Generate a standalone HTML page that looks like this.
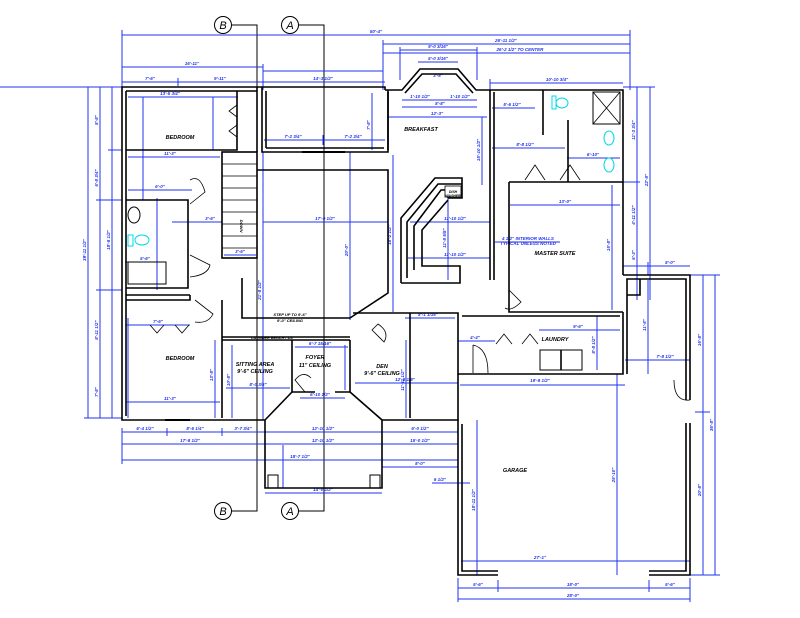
<!DOCTYPE html>
<html><head><meta charset="utf-8"><style>
html,body{margin:0;padding:0;background:#fff}
svg{display:block}
text{font-family:"Liberation Sans",sans-serif;font-style:italic;font-weight:bold}
.d{stroke:#2233ee;stroke-width:1;fill:none}
.w{stroke:#000;stroke-width:1.6;fill:none}
.t{stroke:#000;stroke-width:0.8;fill:none}
.dt{fill:#2233ee;font-size:4.5px}
.rt{fill:#000;font-size:5.5px}
</style></head><body>
<svg width="800" height="618" viewBox="0 0 800 618" xmlns="http://www.w3.org/2000/svg">
<rect width="800" height="618" fill="#fff"/>
<!-- grid lines A/B -->
<g stroke="#000" stroke-width="1" fill="none">
<circle cx="223" cy="25" r="8.5"/><circle cx="290" cy="25" r="8.5"/>
<circle cx="223" cy="511" r="8.5"/><circle cx="290" cy="511" r="8.5"/>
<polyline points="231,25 257,25 257,511 231,511"/>
<polyline points="298,25 324,25 324,511 298,511"/>
</g>
<g font-family="Liberation Sans" font-size="11" text-anchor="middle" fill="#000" style="font-style:italic">
<text x="223" y="29" style="font-weight:normal">B</text><text x="290" y="29" style="font-weight:normal">A</text>
<text x="223" y="515" style="font-weight:normal">B</text><text x="290" y="515" style="font-weight:normal">A</text>
</g>

<!-- dimension lines -->
<g class="d">
<line x1="122" y1="35" x2="630" y2="35"/><line x1="122" y1="30" x2="122" y2="90"/><line x1="630" y1="30" x2="630" y2="90"/>
<line x1="383" y1="44" x2="630" y2="44"/><line x1="383" y1="40" x2="383" y2="90"/>
<line x1="383" y1="53" x2="630" y2="53"/>
<line x1="400" y1="50" x2="477" y2="50"/><line x1="400" y1="47" x2="400" y2="80"/><line x1="477" y1="47" x2="477" y2="80"/>
<line x1="418" y1="62" x2="458" y2="62"/>
<line x1="122" y1="67" x2="263" y2="67"/><line x1="263" y1="64" x2="263" y2="90"/>
<line x1="263" y1="71" x2="383" y2="71"/>
<line x1="122" y1="82" x2="385" y2="82"/><line x1="178" y1="78" x2="178" y2="86"/>
<line x1="490" y1="83" x2="623" y2="83"/><line x1="490" y1="79" x2="490" y2="90"/>
<line x1="0" y1="87" x2="122" y2="87"/>
<line x1="402" y1="100" x2="477" y2="100"/><line x1="402" y1="107" x2="477" y2="107"/><line x1="388" y1="117" x2="487" y2="117"/>
<line x1="128" y1="97" x2="238" y2="97"/><line x1="128" y1="157" x2="220" y2="157"/><line x1="128" y1="190" x2="192" y2="190"/>
<line x1="143" y1="97" x2="143" y2="200"/><line x1="213" y1="97" x2="213" y2="150"/>
<line x1="264" y1="140" x2="385" y2="140"/><line x1="323" y1="135" x2="323" y2="145"/>
<line x1="372" y1="93" x2="372" y2="150"/>
<line x1="88" y1="87" x2="88" y2="418"/><line x1="100" y1="87" x2="100" y2="418"/><line x1="112" y1="87" x2="112" y2="418"/>
<line x1="84" y1="87" x2="122" y2="87"/><line x1="84" y1="418" x2="122" y2="418"/>
<line x1="96" y1="200" x2="122" y2="200"/><line x1="96" y1="290" x2="122" y2="290"/><line x1="108" y1="150" x2="122" y2="150"/>
<line x1="263" y1="222" x2="388" y2="222"/><line x1="263" y1="152" x2="263" y2="420"/>
<line x1="350" y1="152" x2="350" y2="320"/><line x1="393" y1="155" x2="393" y2="312"/>
<line x1="172" y1="222" x2="222" y2="222"/><line x1="125" y1="262" x2="165" y2="262"/><line x1="157" y1="198" x2="157" y2="290"/>
<line x1="224" y1="255" x2="256" y2="255"/>
<line x1="410" y1="222" x2="490" y2="222"/><line x1="408" y1="258" x2="490" y2="258"/><line x1="448" y1="195" x2="448" y2="280"/>
<line x1="482" y1="117" x2="482" y2="185"/>
<line x1="510" y1="205" x2="620" y2="205"/><line x1="612" y1="185" x2="612" y2="310"/>
<line x1="495" y1="242" x2="560" y2="242"/>
<line x1="492" y1="108" x2="535" y2="108"/><line x1="492" y1="148" x2="565" y2="148"/><line x1="567" y1="158" x2="620" y2="158"/>
<line x1="637" y1="87" x2="637" y2="300"/><line x1="650" y1="87" x2="650" y2="300"/>
<line x1="623" y1="87" x2="655" y2="87"/><line x1="623" y1="182" x2="640" y2="182"/>
<line x1="623" y1="266" x2="690" y2="266"/>
<line x1="648" y1="262" x2="648" y2="275"/>
<line x1="648" y1="280" x2="648" y2="374"/><line x1="625" y1="360" x2="690" y2="360"/>
<line x1="703" y1="275" x2="703" y2="575"/><line x1="715" y1="275" x2="715" y2="575"/>
<line x1="690" y1="275" x2="720" y2="275"/><line x1="690" y1="575" x2="720" y2="575"/><line x1="695" y1="412" x2="710" y2="412"/>
<line x1="458" y1="588" x2="690" y2="588"/><line x1="458" y1="599" x2="690" y2="599"/>
<line x1="458" y1="578" x2="458" y2="602"/><line x1="690" y1="578" x2="690" y2="602"/><line x1="498" y1="580" x2="498" y2="592"/><line x1="649" y1="580" x2="649" y2="592"/>
<line x1="461" y1="561" x2="690" y2="561"/><line x1="617" y1="374" x2="617" y2="575"/>
<line x1="477" y1="420" x2="477" y2="575"/>
<line x1="460" y1="385" x2="625" y2="385"/><line x1="539" y1="330" x2="620" y2="330"/><line x1="597" y1="316" x2="597" y2="370"/>
<line x1="458" y1="341" x2="495" y2="341"/>
<line x1="122" y1="432" x2="458" y2="432"/><line x1="122" y1="444" x2="458" y2="444"/><line x1="122" y1="460" x2="458" y2="460"/>
<line x1="122" y1="428" x2="122" y2="464"/><line x1="458" y1="428" x2="458" y2="464"/>
<line x1="167" y1="428" x2="167" y2="436"/><line x1="222" y1="428" x2="222" y2="436"/><line x1="265" y1="428" x2="265" y2="448"/><line x1="382" y1="428" x2="382" y2="448"/>
<line x1="265" y1="493" x2="382" y2="493"/><line x1="283" y1="445" x2="283" y2="488"/>
<line x1="382" y1="467" x2="458" y2="467"/><line x1="432" y1="483" x2="470" y2="483"/>
<line x1="126" y1="402" x2="220" y2="402"/><line x1="126" y1="325" x2="190" y2="325"/><line x1="215" y1="340" x2="215" y2="418"/><line x1="128" y1="318" x2="128" y2="418"/>
<line x1="226" y1="388" x2="290" y2="388"/><line x1="232" y1="345" x2="232" y2="418"/>
<line x1="295" y1="347" x2="348" y2="347"/><line x1="345" y1="345" x2="345" y2="390"/>
<line x1="355" y1="383" x2="458" y2="383"/><line x1="405" y1="318" x2="455" y2="318"/><line x1="406" y1="340" x2="406" y2="418"/>
<line x1="300" y1="398" x2="345" y2="398"/>
</g>
<g class="dt" text-anchor="middle">
<text x="376" y="33">50'-4"</text><text x="506" y="42">26'-11 1/2"</text><text x="520" y="51">26'-2 1/2"  TO CENTER</text>
<text x="438" y="48">9'-0 3/16"</text><text x="438" y="60">5'-0 3/16"</text><text x="438" y="77">3'-8"</text>
<text x="192" y="65">16'-11"</text><text x="150" y="80">7'-6"</text><text x="220" y="80">9'-11"</text><text x="323" y="80">14'-3 1/2"</text>
<text x="557" y="81">10'-10 3/4"</text>
<text x="420" y="98">1'-10 1/2"</text><text x="460" y="98">1'-10 1/2"</text><text x="440" y="105">8'-8"</text><text x="437" y="115">12'-3"</text>
<text x="170" y="95">13'-5 3/4"</text><text x="170" y="155">11'-3"</text><text x="160" y="188">6'-0"</text>
<text x="293" y="138">7'-2 3/4"</text><text x="353" y="138">7'-2 3/4"</text>
<text x="325" y="220">17'-9 1/2"</text><text x="210" y="220">3'-6"</text><text x="145" y="260">5'-6"</text><text x="240" y="253">3'-6"</text>
<text x="455" y="220">11'-10 1/2"</text><text x="455" y="256">11'-10 1/2"</text>
<text x="565" y="203">13'-0"</text><text x="528" y="240">4 1/2" INTERIOR WALLS</text><text x="528" y="245">TYPICAL UNLESS NOTED</text>
<text x="512" y="106">5'-6 1/2"</text><text x="525" y="146">8'-8 1/2"</text><text x="593" y="156">6'-10"</text>
<text x="670" y="264">8'-0"</text><text x="665" y="358">7'-8 1/2"</text>
<text x="540" y="382">19'-8 1/2"</text><text x="578" y="328">9'-6"</text><text x="475" y="339">4'-4"</text>
<text x="540" y="559">27'-1"</text><text x="478" y="586">5'-6"</text><text x="573" y="586">18'-0"</text><text x="670" y="586">5'-6"</text><text x="573" y="597">28'-0"</text>
<text x="145" y="430">6'-4 1/2"</text><text x="195" y="430">8'-6 1/4"</text><text x="243" y="430">3'-7 3/4"</text><text x="323" y="430">12'-10 1/2"</text><text x="420" y="430">6'-0 1/2"</text>
<text x="190" y="442">17'-8 1/2"</text><text x="323" y="442">12'-10 1/2"</text><text x="420" y="442">15'-0 1/2"</text>
<text x="300" y="458">18'-7 1/2"</text><text x="323" y="491">14'-0 1/2"</text><text x="420" y="465">8'-0"</text><text x="440" y="481">6 1/2"</text>
<text x="170" y="400">11'-3"</text><text x="158" y="323">7'-6"</text><text x="258" y="386">8'-0 3/8"</text><text x="320" y="345">6'-7 15/16"</text><text x="405" y="381">12'-8 1/8"</text><text x="428" y="316">8'-1 1/16"</text>
<text x="320" y="396">6'-10 1/2"</text>
</g>
<g class="dt" text-anchor="middle">
<text transform="translate(86,250) rotate(-90)">39'-11 1/2"</text>
<text transform="translate(98,120) rotate(-90)">8'-8"</text><text transform="translate(98,178) rotate(-90)">6'-8 3/4"</text><text transform="translate(98,330) rotate(-90)">8'-11 1/2"</text><text transform="translate(98,392) rotate(-90)">7'-8"</text>
<text transform="translate(110,240) rotate(-90)">18'-8 1/2"</text>
<text transform="translate(348,250) rotate(-90)">20'-0"</text><text transform="translate(391,235) rotate(-90)">18'-2 1/2"</text>
<text transform="translate(635,130) rotate(-90)">11'-3 3/4"</text><text transform="translate(648,180) rotate(-90)">22'-8"</text><text transform="translate(635,215) rotate(-90)">4'-11 1/2"</text><text transform="translate(635,255) rotate(-90)">6'-3"</text>
<text transform="translate(646,325) rotate(-90)">11'-8"</text>
<text transform="translate(701,340) rotate(-90)">16'-8"</text><text transform="translate(701,490) rotate(-90)">20'-8"</text><text transform="translate(713,425) rotate(-90)">36'-8"</text>
<text transform="translate(475,500) rotate(-90)">18'-11 1/2"</text><text transform="translate(615,475) rotate(-90)">25'-10"</text>
<text transform="translate(610,245) rotate(-90)">15'-8"</text><text transform="translate(480,150) rotate(-90)">15'-10 1/2"</text><text transform="translate(446,238) rotate(-90)">11'-8 5/8"</text>
<text transform="translate(595,345) rotate(-90)">8'-8 1/2"</text>
<text transform="translate(404,380) rotate(-90)">11'-11 1/2"</text><text transform="translate(213,375) rotate(-90)">13'-8"</text><text transform="translate(230,380) rotate(-90)">10'-8"</text>
<text transform="translate(261,290) rotate(-90)">21'-8 1/2"</text><text transform="translate(370,125) rotate(-90)">7'-8"</text>
</g>

<!-- walls -->
<g class="w">
<!-- left house -->
<polyline points="385,90 385,87 122,87 122,420 265,420"/>
<polyline points="126,91 126,416"/>
<line x1="126" y1="91" x2="257" y2="91"/>
<polyline points="237,91 237,150 126,150"/><polyline points="257,87 257,152"/>
<polyline points="262,87 262,152 388,152 388,90"/>
<line x1="266" y1="91" x2="266" y2="148"/><line x1="266" y1="148" x2="384" y2="148"/>
<!-- stair -->
<rect x="222" y="152" width="35" height="106"/>
<!-- living polygon -->
<polyline points="257,170 388,170 388,293 350,318 242,318 242,278"/>
<!-- bath -->
<polyline points="126,200 188,200 188,288 126,288"/><line x1="126" y1="295" x2="190" y2="295"/>
<polyline points="190,295 190,300 126,300"/>
<rect x="128" y="262" width="38" height="22" stroke-width="1"/>
<ellipse cx="134" cy="215" rx="6" ry="8" stroke-width="1"/>
<!-- lower bedroom -->
<polyline points="222,300 222,418"/>
<!-- sitting/foyer -->
<line x1="222" y1="337" x2="350" y2="337"/><line x1="222" y1="340" x2="350" y2="340"/>
<polyline points="292,340 292,392 315,392"/><polyline points="350,340 350,392 335,392"/>
<!-- entry angled -->
<polyline points="265,420 292,392"/><polyline points="382,420 350,392"/>
<!-- porch -->
<polyline points="265,420 265,488 382,488 382,420"/>
<rect x="268" y="475" width="10" height="13" stroke-width="1"/><rect x="370" y="475" width="10" height="13" stroke-width="1"/>
<!-- bottom right of house -->
<polyline points="382,420 458,420 458,374"/>
<!-- den -->
<polyline points="353,313 458,313 458,345"/><line x1="410" y1="313" x2="410" y2="418"/>
<!-- breakfast bay -->
<polyline points="385,90 402,90 420,69 458,69 476,90 490,90"/>
<polyline points="405,93 422,74 456,74 473,93"/>
<line x1="388" y1="92" x2="388" y2="150"/>
<!-- kitchen counter -->
<polyline points="401,283 401,218 435,178 462,178 462,198 448,198"/>
<polyline points="407,278 407,222 438,184 462,184"/>
<polyline points="414,270 414,226 441,190 448,190 448,198"/>
<polyline points="401,283 460,283 460,266 422,266 422,230 448,200"/>
<!-- master -->
<polyline points="490,90 623,90 623,275"/><line x1="490" y1="90" x2="490" y2="280"/><line x1="494" y1="92" x2="494" y2="280"/>
<polyline points="509,182 509,312 623,312"/>
<line x1="509" y1="182" x2="623" y2="182"/>
<line x1="543" y1="90" x2="543" y2="135"/><line x1="568" y1="120" x2="568" y2="182"/>
<rect x="593" y="92" width="27" height="32" stroke-width="1"/><line x1="593" y1="92" x2="620" y2="124" stroke-width="0.8"/><line x1="620" y1="92" x2="593" y2="124" stroke-width="0.8"/>
<!-- laundry -->
<polyline points="458,345 458,374 623,374 623,312"/><line x1="462" y1="316" x2="620" y2="316"/>
<rect x="540" y="350" width="42" height="20" stroke-width="1"/><line x1="561" y1="350" x2="561" y2="370"/>
<!-- garage -->
<polyline points="623,275 690,275 690,400"/><polyline points="690,423 690,575 649,575"/>
<polyline points="498,575 458,575 458,420"/>
<polyline points="462,424 462,571 498,571"/><polyline points="649,571 686,571 686,423"/>
<polyline points="686,400 686,279 627,279 627,374"/>
<polyline points="627,295 640,295 640,279"/>
</g>
<!-- doors / stair rungs -->
<g class="t">
<path d="M222,164h35M222,176h35M222,188h35M222,200h35M222,212h35M222,224h35M222,236h35M222,248h35"/>
<path d="M237,105 l-8,6 l8,6 M237,125 l-8,6 l8,6"/>
<path d="M190,180 q10,-6 15,12 l-15,12 M190,255 l20,10 q-2,10 -20,12"/>
<path d="M195,300 l18,14 q-5,10 -18,8"/>
<path d="M372,330 l12,12 q6,-10 -6,-18z"/>
<path d="M305,392 l-10,-12 q8,-10 16,-2"/>
<path d="M473,345 q15,3 15,28 M473,345 v28"/>
<path d="M690,400 q-16,2 -16,-20 M509,290 l12,12 q-10,10 -16,6"/>
<path d="M525,180 l10,-15 l10,15 M560,180 l10,-15 l10,15"/>
<path d="M496,344 l8,-10 l8,10 M522,344 l8,-10 l8,10"/>
<path d="M150,325 l7,8 l7,-8 M175,325 l7,8 l7,-8"/>
<line x1="302" y1="152" x2="345" y2="152" stroke-width="2"/>
<line x1="165" y1="420" x2="190" y2="420" stroke-width="2"/>
</g>
<g fill="none" stroke="#00d8e8" stroke-width="1">
<ellipse cx="142" cy="240" rx="7" ry="5"/><rect x="128" y="235" width="5" height="11"/>
<ellipse cx="562" cy="103" rx="6" ry="5"/><rect x="552" y="96" width="4" height="13"/>
<ellipse cx="609" cy="138" rx="5" ry="7"/><ellipse cx="609" cy="165" rx="5" ry="7"/>
</g>
<rect x="445" y="186" width="16" height="11" fill="#fff" stroke="#000" stroke-width="0.8"/>
<g class="rt" text-anchor="middle">
<text x="180" y="139">BEDROOM</text><text x="421" y="131">BREAKFAST</text>
<text x="180" y="360">BEDROOM</text><text x="555" y="255">MASTER  SUITE</text><text x="555" y="341">LAUNDRY</text>
<text x="255" y="366">SITTING AREA</text><text x="255" y="373">9'-6" CEILING</text>
<text x="315" y="359">FOYER</text><text x="315" y="367">11" CEILING</text>
<text x="382" y="368">DEN</text><text x="382" y="375">9'-6" CEILING</text>
<text x="515" y="472">GARAGE</text>
<text x="290" y="316" style="font-size:4px">STEP UP TO 9'-6"</text><text x="290" y="322" style="font-size:4px">9'-0" CEILING</text>
<text x="272" y="339" style="font-size:3.8px">LAUNDER BENCH / 1/4</text>
<text x="453" y="193" style="font-size:3.5px">DISH</text><text x="453" y="197" style="font-size:3.5px">WASHER</text>
<text transform="translate(240,226) rotate(90)" style="font-size:4px">DOWN</text>
</g>
</svg>
</body></html>
